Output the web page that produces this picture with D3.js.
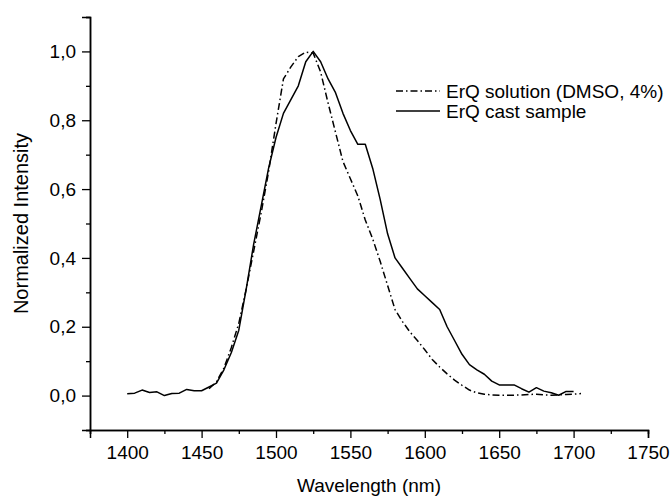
<!DOCTYPE html>
<html>
<head>
<meta charset="utf-8">
<script src="https://cdn.jsdelivr.net/npm/d3@7"></script>
<style>
  body { margin: 0; background: #fff; }
  svg { display: block; font-family: "Liberation Sans", Arial, sans-serif; }
</style>
</head>
<body>
<svg id="chart" width="672" height="500"></svg>
<script>
const wavelengthsCast = d3.range(1400, 1701, 5);
const castSample = [
  0.005, 0.007, 0.016, 0.009, 0.011, 0.0, 0.006, 0.007, 0.018, 0.014,
  0.014, 0.025, 0.036, 0.075, 0.125, 0.19, 0.31, 0.44, 0.55, 0.66,
  0.75, 0.82, 0.86, 0.9, 0.97, 1.0, 0.97, 0.92, 0.88, 0.82,
  0.77, 0.73, 0.73, 0.66, 0.57, 0.47, 0.4, 0.37, 0.34, 0.31,
  0.29, 0.27, 0.25, 0.2, 0.16, 0.12, 0.09, 0.075, 0.062, 0.042,
  0.031, 0.031, 0.031, 0.02, 0.01, 0.023, 0.013, 0.008, 0.001, 0.012,
  0.012
];

const wavelengthsSolution = d3.range(1455, 1706, 5);
const solutionDmso = [
  0.02, 0.04, 0.08, 0.14, 0.21, 0.31, 0.42, 0.53, 0.65, 0.79,
  0.92, 0.955, 0.985, 0.998, 0.995, 0.94, 0.85, 0.765, 0.68, 0.63,
  0.58, 0.51, 0.455, 0.39, 0.32, 0.25, 0.215, 0.185, 0.16, 0.133,
  0.105, 0.083, 0.063, 0.045, 0.03, 0.016, 0.008, 0.004, 0.002, 0.001,
  0.001, 0.001, 0.002, 0.003, 0.004, 0.002, 0.001, 0.002, 0.003, 0.004,
  0.006
];

const xTicks = [1400, 1450, 1500, 1550, 1600, 1650, 1700, 1750];
const yTicks = [0, 0.2, 0.4, 0.6, 0.8, 1.0];
const legendLabels = ["ErQ solution (DMSO, 4%)", "ErQ cast sample"];

const svg = d3.select("#chart");

const x = d3.scaleLinear().domain([1375, 1750]).range([90, 648]);
const y = d3.scaleLinear().domain([-0.1, 1.1]).range([430, 17]);

const fmt = (v) => d3.format(".1f")(v).replace(".", ",");

// minor ticks first, then majors with labels
const xMinor = d3.range(1375, 1751, 25).filter((v) => !xTicks.includes(v));
const yMinor = d3.range(-1, 12).map((i) => i / 10).filter((v) => !yTicks.some((t) => Math.abs(t - v) < 1e-9));

const xAxisG = svg.append("g").attr("transform", `translate(0,${y(-0.1)})`);
xAxisG.call(d3.axisBottom(x).tickValues(xMinor).tickSize(4).tickFormat(""));
xAxisG.append("g").call(d3.axisBottom(x).tickValues(xTicks).tickSize(8).tickPadding(8).tickFormat(d3.format("d")));

const yAxisG = svg.append("g").attr("transform", `translate(${x(1375)},0)`);
yAxisG.call(d3.axisLeft(y).tickValues(yMinor).tickSize(4).tickFormat(""));
yAxisG.append("g").call(d3.axisLeft(y).tickValues(yTicks).tickSize(8).tickPadding(6).tickFormat(fmt));

svg.selectAll(".domain").attr("stroke", "#000").attr("stroke-width", 1.5);
svg.selectAll(".tick line").attr("stroke", "#000").attr("stroke-width", 1.3);
svg.selectAll(".tick text").attr("font-size", 19).attr("fill", "#000")
  .attr("font-family", "Liberation Sans, Arial, sans-serif");

svg.append("text")
  .attr("transform", `translate(28,${(y(-0.1) + y(1.1)) / 2}) rotate(-90)`)
  .attr("text-anchor", "middle")
  .attr("font-size", 20)
  .text("Normalized Intensity");

svg.append("text")
  .attr("x", (x(1375) + x(1750)) / 2)
  .attr("y", 492)
  .attr("text-anchor", "middle")
  .attr("font-size", 19)
  .text("Wavelength (nm)");

const line = d3.line()
  .x((d) => x(d[0]))
  .y((d) => y(d[1]));

const series = [
  { name: legendLabels[0], pts: d3.zip(wavelengthsSolution, solutionDmso), dash: "7,3,1.5,3" },
  { name: legendLabels[1], pts: d3.zip(wavelengthsCast, castSample), dash: null }
];

svg.append("g")
  .selectAll("path")
  .data(series)
  .join("path")
  .attr("fill", "none")
  .attr("stroke", "#000")
  .attr("stroke-width", 1.5)
  .attr("stroke-linejoin", "round")
  .attr("stroke-dasharray", (d) => d.dash)
  .attr("d", (d) => line(d.pts));

const legend = svg.append("g").attr("transform", "translate(396,91)");
const items = legend.selectAll("g")
  .data(series)
  .join("g")
  .attr("transform", (d, i) => `translate(0,${i * 20})`);
items.append("line")
  .attr("x1", 0).attr("x2", 44)
  .attr("stroke", "#000")
  .attr("stroke-width", 1.5)
  .attr("stroke-dasharray", (d) => d.dash);
items.append("text")
  .attr("x", 50)
  .attr("dy", "0.35em")
  .attr("font-size", 19)
  .text((d) => d.name);
</script>
</body>
</html>
